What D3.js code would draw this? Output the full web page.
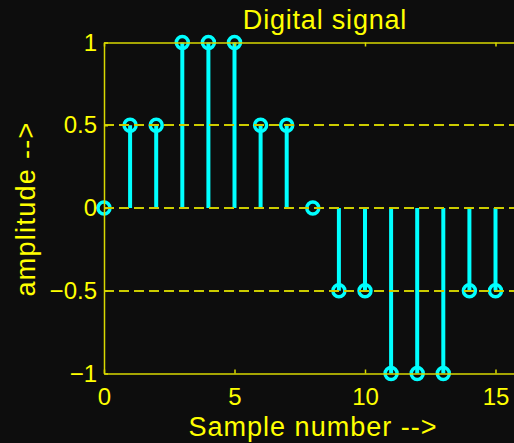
<!DOCTYPE html>
<html>
<head>
<meta charset="utf-8">
<script src="https://cdn.jsdelivr.net/npm/d3@7"></script>
<style>
  html, body { margin: 0; padding: 0; background: #0d0d0d; }
  svg { display: block; }
</style>
</head>
<body>
<div id="chart"></div>
<script>
// stem data
const samples = [0, 1, 2, 3, 4, 5, 6, 7, 8, 9, 10, 11, 12, 13, 14, 15];
const amplitudes = [0, 0.5, 0.5, 1, 1, 1, 0.5, 0.5, 0, -0.5, -0.5, -1, -1, -1, -0.5, -0.5];
const xTicks = [0, 5, 10, 15];
const yTicks = [-1, -0.5, 0, 0.5, 1];
const gridLevels = [-0.5, 0, 0.5];
const titleText = 'Digital signal';
const xLabelText = 'Sample number -->';
const yLabelText = 'amplitude -->';

const width = 514;
const height = 443;
const plotLeft = 104, plotTop = 42.5, plotRight = 521.6, plotBottom = 373.5;
const axisColor = '#d8d800';
const gridColor = '#cccc00';
const textColor = '#ffff00';
const stemColor = '#00ffff';
const font = '"Liberation Sans", Arial, Helvetica, sans-serif';

const x = d3.scaleLinear().domain([0, 16]).range([plotLeft, plotRight]);
const y = d3.scaleLinear().domain([-1, 1]).range([plotBottom, plotTop]);

const svg = d3.select('#chart')
    .append('svg')
    .attr('width', width)
    .attr('height', height)
    .attr('viewBox', `0 0 ${width} ${height}`);

svg.append('rect')
    .attr('width', width)
    .attr('height', height)
    .attr('fill', '#0d0d0d');

// stems + open circle markers
const stems = svg.append('g').attr('class', 'stems');

stems.selectAll('line')
    .data(samples)
    .join('line')
    .attr('x1', (d) => x(d))
    .attr('x2', (d) => x(d))
    .attr('y1', y(0))
    .attr('y2', (d, i) => y(amplitudes[i]))
    .attr('stroke', stemColor)
    .attr('stroke-width', 4);

stems.selectAll('circle')
    .data(samples)
    .join('circle')
    .attr('cx', (d) => x(d))
    .attr('cy', (d, i) => y(amplitudes[i]))
    .attr('r', 6)
    .attr('fill', 'none')
    .attr('stroke', stemColor)
    .attr('stroke-width', 3.5);

// dashed grid, drawn over the stems like the original
svg.append('g')
    .attr('class', 'grid')
    .selectAll('line')
    .data(gridLevels)
    .join('line')
    .attr('x1', plotLeft)
    .attr('x2', plotRight)
    .attr('y1', (d) => Math.round(y(d)))
    .attr('y2', (d) => Math.round(y(d)))
    .attr('stroke', gridColor)
    .attr('stroke-width', 2)
    .attr('stroke-dasharray', '10,5');

const styleAxis = (g) => {
    g.attr('font-family', font).attr('font-size', 24);
    g.select('.domain').attr('stroke', axisColor).attr('stroke-width', 1.5);
    g.selectAll('.tick line').attr('stroke', axisColor).attr('stroke-width', 1.5);
    g.selectAll('.tick text').attr('fill', textColor);
};

svg.append('g')
    .attr('transform', `translate(0,${plotBottom})`)
    .call(d3.axisBottom(x).tickValues(xTicks).tickSizeInner(-4).tickSizeOuter(0).tickPadding(14))
    .call(styleAxis);

svg.append('g')
    .attr('transform', `translate(0,${plotTop})`)
    .call(d3.axisTop(x).tickValues(xTicks).tickSizeInner(-4).tickSizeOuter(0).tickFormat(''))
    .call(styleAxis);

svg.append('g')
    .attr('transform', `translate(${plotLeft},0)`)
    .call(d3.axisLeft(y).tickValues(yTicks).tickSizeInner(-4).tickSizeOuter(0).tickPadding(7)
        .tickFormat((d) => String(d).replace('-', '\u2212')))
    .call(styleAxis);

svg.append('g')
    .attr('transform', `translate(${plotRight},0)`)
    .call(d3.axisRight(y).tickValues(yTicks).tickSizeInner(-4).tickSizeOuter(0).tickFormat(''))
    .call(styleAxis);

// labels
svg.append('text')
    .attr('x', 325)
    .attr('y', 29)
    .attr('text-anchor', 'middle')
    .attr('fill', textColor)
    .style('font-family', font)
    .style('font-size', '27px')
    .style('letter-spacing', '0.8px')
    .text(titleText);

svg.append('text')
    .attr('x', 313)
    .attr('y', 436)
    .attr('text-anchor', 'middle')
    .attr('fill', textColor)
    .style('font-family', font)
    .style('font-size', '27px')
    .style('letter-spacing', '1px')
    .text(xLabelText);

svg.append('text')
    .attr('transform', 'translate(35,209) rotate(-90)')
    .attr('text-anchor', 'middle')
    .attr('fill', textColor)
    .style('font-family', font)
    .style('font-size', '27px')
    .style('letter-spacing', '1.3px')
    .text(yLabelText);
</script>
</body>
</html>
